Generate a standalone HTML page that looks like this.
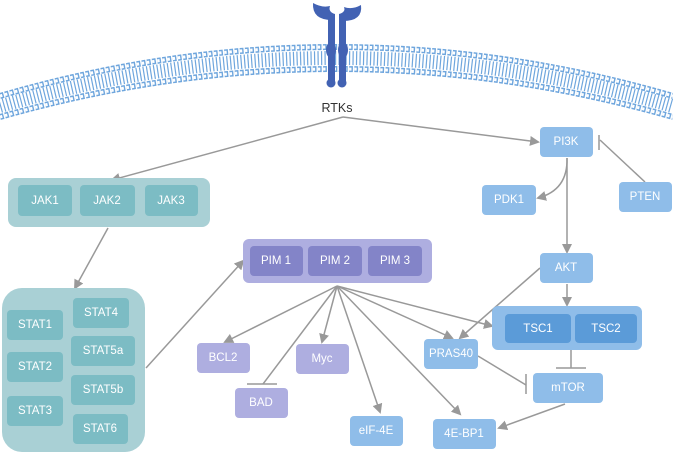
<!DOCTYPE html>
<html><head><meta charset="utf-8"><style>
body{margin:0;background:#fff;width:673px;height:453px;overflow:hidden}
svg{display:block}
text{font-family:"Liberation Sans",sans-serif;font-size:11.5px;fill:#fff;text-anchor:middle;dominant-baseline:central}
</style></head><body>
<svg width="673" height="453" viewBox="0 0 673 453">
<defs>
<marker id="a" markerWidth="10" markerHeight="10" refX="8" refY="5" orient="auto" markerUnits="userSpaceOnUse"><path d="M0,0 L10,5 L0,10 z" fill="#999"/></marker>
</defs>
<!-- membrane -->
<path d="M0,106 Q336,10 673,106" fill="none" stroke="#6fa6dd" stroke-width="14" stroke-dasharray="1.2 2.3"/>
<path d="M0,96 Q336,-2 673,96" fill="none" stroke="#fff" stroke-width="6"/>
<path d="M0,96 Q336,-2 673,96" fill="none" stroke="#6fa6dd" stroke-width="6" stroke-dasharray="3.8 1.4"/>
<path d="M0,96 Q336,-2 673,96" fill="none" stroke="#fff" stroke-width="3" stroke-dasharray="2.4 2.8"/>
<path d="M0,117 Q336,21 673,117" fill="none" stroke="#fff" stroke-width="6"/>
<path d="M0,117 Q336,21 673,117" fill="none" stroke="#6fa6dd" stroke-width="6" stroke-dasharray="3.8 1.4"/>
<path d="M0,117 Q336,21 673,117" fill="none" stroke="#fff" stroke-width="3" stroke-dasharray="2.4 2.8"/>
<!-- receptor -->
<g fill="#4262b3">
<rect x="328" y="14" width="7" height="70"/><rect x="339" y="14" width="7" height="70"/>
<ellipse cx="331" cy="50" rx="5" ry="8"/><ellipse cx="343" cy="50" rx="5" ry="8"/>
<circle cx="331" cy="83" r="4.5"/><circle cx="342" cy="83" r="4.5"/>
<path d="M313,3 Q312,20 332,20 L335,14 Q328,12 330,6 Q322,8 313,3z"/>
<path d="M361,5 Q363,21 343,21 L339,14 Q346,12 344,7 Q352,10 361,5z"/>
</g>
<text x="337" y="108" style="fill:#333;font-size:12.5px">RTKs</text>
<!-- lines -->
<g stroke="#999" stroke-width="1.5" fill="none">
<path d="M343,117 L112,180" marker-end="url(#a)"/>
<path d="M343,117 L538,142" marker-end="url(#a)"/>
<path d="M108,228 L75,288" marker-end="url(#a)"/>
<path d="M146,368 L243,261" marker-end="url(#a)"/>
<path d="M337,286 L225,342" marker-end="url(#a)"/>
<path d="M337,286 L263,384"/><path d="M247,384 L277,384"/>
<path d="M337,286 L322,342" marker-end="url(#a)"/>
<path d="M337,286 L380,412" marker-end="url(#a)"/>
<path d="M337,286 L460,414" marker-end="url(#a)"/>
<path d="M337,286 L452,338" marker-end="url(#a)"/>
<path d="M337,286 L492,326" marker-end="url(#a)"/>
<path d="M645,182 L600,140"/><path d="M599,135 L599,150"/>
<path d="M567,158 Q568,190 538,198" marker-end="url(#a)"/>
<path d="M567,158 L567,252" marker-end="url(#a)"/>
<path d="M567,284 L567,305" marker-end="url(#a)"/>
<path d="M540,268 L460,338" marker-end="url(#a)"/>
<path d="M571,350 L571,368"/><path d="M556,368 L586,368"/>
<path d="M478,356 L526,385"/><path d="M526,374 L526,394"/>
<path d="M565,404 L499,428" marker-end="url(#a)"/>
</g>
<!-- JAK -->
<rect x="8" y="178" width="202" height="49" rx="8" fill="#a9d0d5"/>
<g fill="#7cbcc4">
<rect x="18" y="185" width="54" height="31" rx="4"/><rect x="80" y="185" width="55" height="31" rx="4"/><rect x="145" y="185" width="53" height="31" rx="4"/>
</g>
<text x="45" y="201">JAK1</text><text x="107" y="201">JAK2</text><text x="171" y="201">JAK3</text>
<!-- STAT -->
<rect x="2" y="288" width="143" height="164" rx="20" fill="#a9d0d5"/>
<g fill="#7cbcc4">
<rect x="7" y="310" width="56" height="30" rx="4"/><rect x="7" y="352" width="56" height="30" rx="4"/><rect x="7" y="396" width="56" height="30" rx="4"/>
<rect x="73" y="298" width="56" height="30" rx="4"/><rect x="71" y="336" width="64" height="30" rx="4"/><rect x="71" y="375" width="64" height="30" rx="4"/><rect x="73" y="414" width="55" height="30" rx="4"/>
</g>
<text x="35" y="325">STAT1</text><text x="35" y="367">STAT2</text><text x="35" y="411">STAT3</text>
<text x="101" y="313">STAT4</text><text x="103" y="351">STAT5a</text><text x="103" y="390">STAT5b</text><text x="100" y="429">STAT6</text>
<!-- PIM -->
<rect x="243" y="239" width="189" height="44" rx="6" fill="#aeaee0"/>
<g fill="#8384c8">
<rect x="250" y="246" width="53" height="30" rx="4"/><rect x="308" y="246" width="54" height="30" rx="4"/><rect x="368" y="246" width="54" height="30" rx="4"/>
</g>
<text x="276" y="261">PIM 1</text><text x="335" y="261">PIM 2</text><text x="395" y="261">PIM 3</text>
<g fill="#aeaee0">
<rect x="197" y="343" width="53" height="30" rx="4"/><rect x="235" y="388" width="53" height="30" rx="4"/><rect x="296" y="344" width="53" height="30" rx="4"/>
</g>
<text x="223" y="358">BCL2</text><text x="261" y="403">BAD</text><text x="322" y="359">Myc</text>
<!-- blue -->
<g fill="#8fbde9">
<rect x="540" y="127" width="53" height="30" rx="4"/><rect x="619" y="182" width="53" height="30" rx="4"/><rect x="482" y="185" width="54" height="30" rx="4"/>
<rect x="540" y="253" width="53" height="30" rx="4"/><rect x="492" y="306" width="150" height="44" rx="6"/>
<rect x="424" y="339" width="54" height="30" rx="4"/><rect x="533" y="373" width="70" height="30" rx="4"/>
<rect x="350" y="416" width="53" height="30" rx="4"/><rect x="433" y="419" width="63" height="30" rx="4"/>
</g>
<g fill="#5b9bd8"><rect x="505" y="314" width="66" height="29" rx="4"/><rect x="575" y="314" width="62" height="29" rx="4"/></g>
<text x="566" y="142">PI3K</text><text x="645" y="197">PTEN</text><text x="509" y="200">PDK1</text>
<text x="566" y="268">AKT</text><text x="538" y="329">TSC1</text><text x="606" y="329">TSC2</text>
<text x="451" y="354">PRAS40</text><text x="568" y="388">mTOR</text>
<text x="376" y="431">eIF-4E</text><text x="464" y="434">4E-BP1</text>
</svg>
</body></html>
